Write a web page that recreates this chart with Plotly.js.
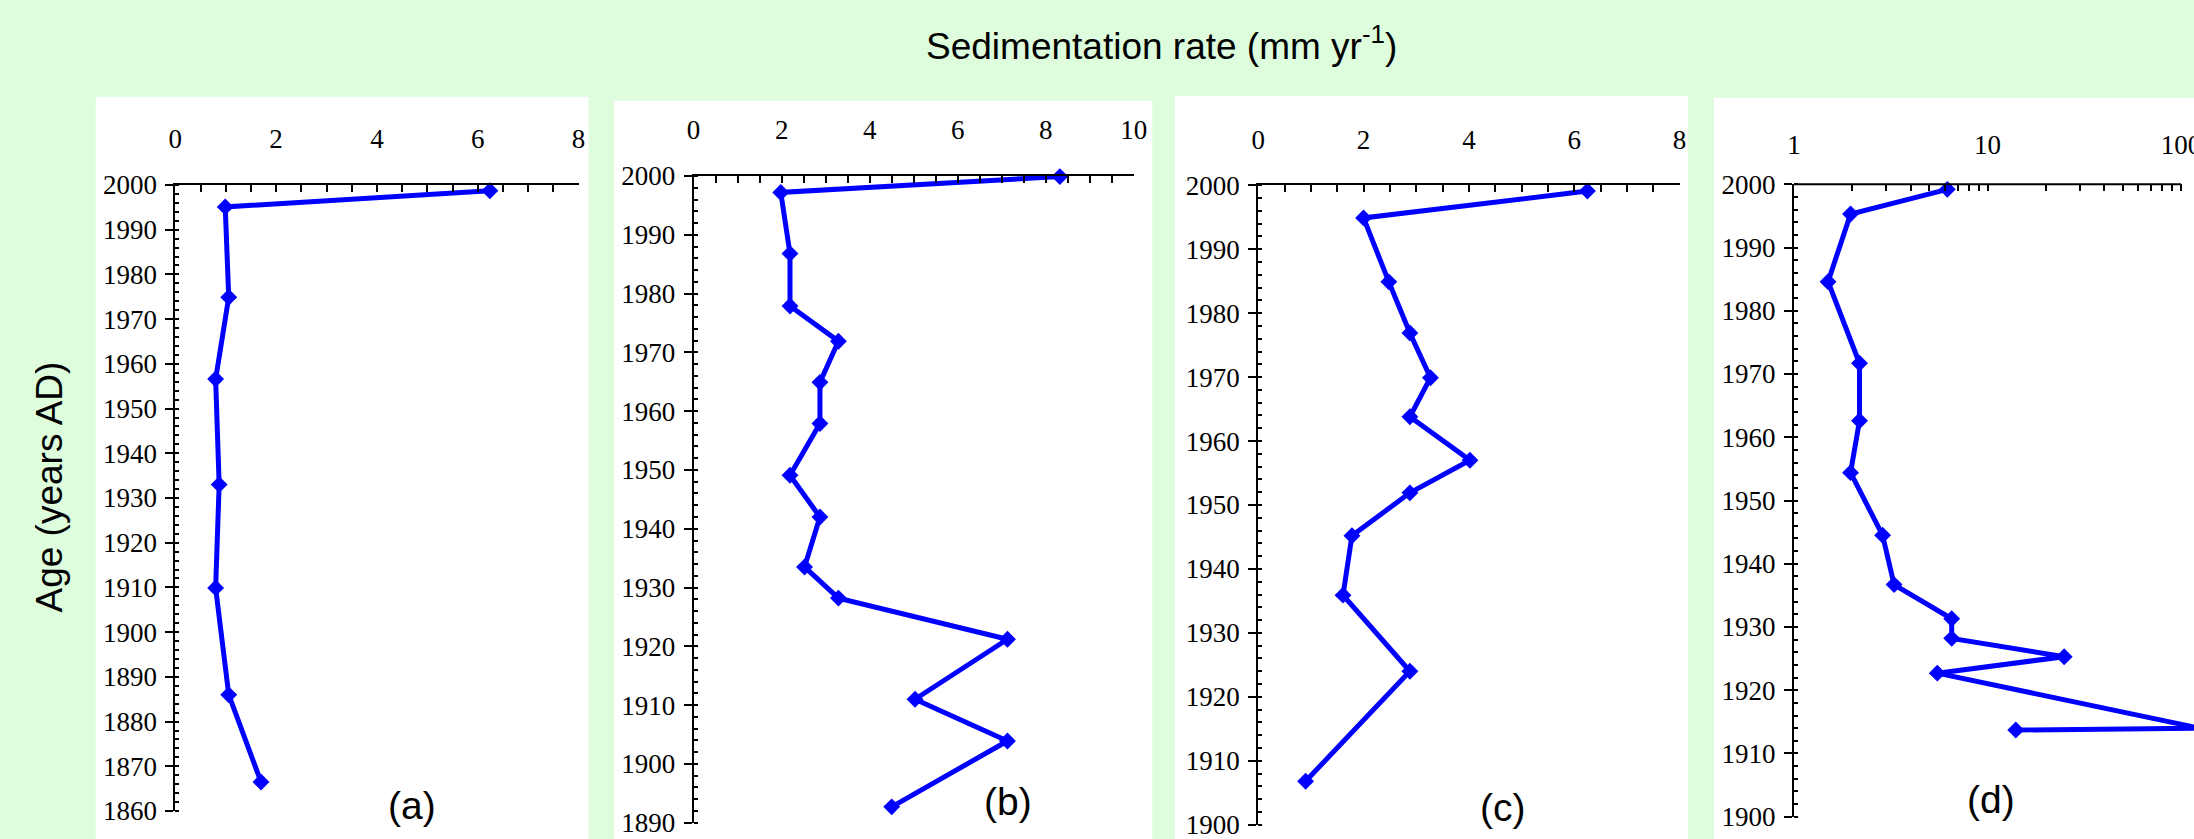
<!DOCTYPE html>
<html><head><meta charset="utf-8">
<script src="https://cdn.plot.ly/plotly-3.0.1.min.js"></script>
<style>html,body{margin:0;padding:0;overflow:hidden;background:#ddfddd}#chart{width:2194px;height:839px}</style>
</head><body><div id="chart"></div>
<script>
// ---- data ----
const ageA  = [1998.7, 1995.1, 1974.9, 1956.6, 1933.0, 1909.9, 1886.0, 1866.5];
const rateA = [6.24, 0.99, 1.06, 0.80, 0.87, 0.80, 1.06, 1.70];

const ageB  = [1999.9, 1997.2, 1986.8, 1977.9, 1971.9, 1964.9, 1957.9, 1949.1, 1942.0, 1933.5, 1928.2, 1921.2, 1911.0, 1903.9, 1892.7];
const rateB = [8.32, 1.98, 2.19, 2.19, 3.29, 2.87, 2.87, 2.19, 2.87, 2.52, 3.29, 7.13, 5.03, 7.13, 4.50];

const ageC  = [1999.1, 1994.9, 1984.9, 1976.9, 1969.9, 1963.8, 1957.0, 1951.9, 1945.2, 1935.9, 1924.0, 1906.8];
const rateC = [6.25, 2.00, 2.48, 2.88, 3.27, 2.88, 4.02, 2.88, 1.78, 1.61, 2.88, 0.90];

const ageD  = [1999.2, 1995.3, 1984.6, 1971.7, 1962.6, 1954.4, 1944.5, 1936.7, 1931.3, 1928.2, 1925.3, 1922.7, 1914.0, 1913.7];
const rateD = [6.2, 1.96, 1.50, 2.18, 2.18, 1.96, 2.87, 3.29, 6.53, 6.53, 24.9, 5.5, 125, 14.0];

const panelLabels = ['(a)', '(b)', '(c)', '(d)'];
const xTitle = 'Sedimentation rate (mm yr<sup>-1</sup>)';
const yTitle = 'Age (years AD)';

// ---- layout geometry (pixels) ----
const W = 2194, H = 839;
const fx = p => p / W;
const fy = p => 1 - p / H;

const panels = [
  {age: ageA, rate: rateA, xl: 175.3, xr: 578.6, yt: 185,   yb: 811,   ymin: 1860, xrange: [0, 8],  dtick: 2, mdtick: 0.5, type: 'linear',
   bg: [95.7, 588.6, 96.7], lab: [412.4, 805]},
  {age: ageB, rate: rateB, xl: 693.6, xr: 1133.8, yt: 176,  yb: 822.7, ymin: 1890, xrange: [0, 10], dtick: 2, mdtick: 0.5, type: 'linear',
   bg: [614, 1152.3, 100.7], lab: [1008, 801]},
  {age: ageC, rate: rateC, xl: 1258.2, xr: 1679.6, yt: 185.3, yb: 824.7, ymin: 1900, xrange: [0, 8], dtick: 2, mdtick: 0.5, type: 'linear',
   bg: [1175, 1687.9, 96], lab: [1502.8, 807]},
  {age: ageD, rate: rateD, xl: 1794, xr: 2194, yt: 184.3, yb: 816.7, ymin: 1900, xrange: [0, 400 / 193.5], dtick: 1, mdtick: 'D1', type: 'log',
   bg: [1714, 2200, 97.7], lab: [1990.8, 799]}
];

const tickFont = {family: 'Liberation Serif, Times New Roman, serif', size: 27, color: '#000'};
const sansFont = 'Liberation Sans, Arial, sans-serif';

const data = [];
const layout = {
  width: W, height: H,
  margin: {l: 0, r: 0, t: 0, b: 0},
  paper_bgcolor: '#ddfddd',
  plot_bgcolor: 'rgba(0,0,0,0)',
  showlegend: false,
  shapes: [], annotations: []
};

panels.forEach((p, i) => {
  const s = i === 0 ? '' : String(i + 1);
  const o = String(i + 5);
  data.push({
    x: p.rate, y: p.age, type: 'scatter', mode: 'lines+markers',
    xaxis: 'x' + s, yaxis: 'y' + s, cliponaxis: false, hoverinfo: 'skip',
    line: {color: '#0000ff', width: 5},
    marker: {symbol: 'diamond', size: 13, color: '#0000ff'}
  });
  layout['xaxis' + s] = {
    domain: [fx(p.xl), fx(p.xr)], anchor: 'y' + s, side: 'top', type: p.type,
    range: p.xrange, dtick: p.dtick, tick0: 0,
    showline: p.type !== 'log', linecolor: '#000', linewidth: 2,
    ticks: 'inside', ticklen: 7, tickwidth: 2, tickcolor: '#000',
    minor: {ticks: 'inside', ticklen: 7, tickwidth: 2, tickcolor: '#000', dtick: p.mdtick},
    showgrid: false, zeroline: false, tickfont: tickFont, ticklabelstandoff: 24,
    ticklabeloverflow: 'allow', fixedrange: true
  };
  layout['xaxis' + o] = {
    overlaying: 'x' + s, anchor: 'y' + s, side: 'top', type: p.type,
    range: p.xrange, dtick: p.dtick, tick0: 0,
    showline: false, ticks: 'outside', ticklen: 5, tickwidth: 2, tickcolor: '#000',
    showticklabels: false, showgrid: false, zeroline: false, fixedrange: true
  };
  layout['yaxis' + s] = {
    domain: [fy(p.yb), fy(p.yt)], anchor: 'x' + s, range: [p.ymin, 2000],
    dtick: 10, tick0: 2000,
    showline: true, linecolor: '#000', linewidth: 2,
    ticks: 'outside', ticklen: 8, tickwidth: 2, tickcolor: '#000',
    minor: {ticks: 'inside', ticklen: 4, tickwidth: 2, tickcolor: '#000', dtick: 2},
    showgrid: false, zeroline: false, tickfont: tickFont, ticklabelstandoff: 3,
    ticklabeloverflow: 'allow', fixedrange: true
  };
  // white panel background
  layout.shapes.push({type: 'rect', xref: 'paper', yref: 'paper', layer: 'below',
    x0: fx(p.bg[0]), x1: fx(p.bg[1]), y0: fy(p.bg[2]), y1: fy(H + 5),
    fillcolor: '#ffffff', line: {width: 0}});
  // panel label
  layout.annotations.push({xref: 'paper', yref: 'paper', x: fx(p.lab[0]), y: fy(p.lab[1]),
    xanchor: 'center', yanchor: 'middle', showarrow: false, text: panelLabels[i],
    font: {family: sansFont, size: 39, color: '#000'}});
});

// x-axis line of the log panel, ending at 100
const pd = panels[3];
layout.shapes.push({type: 'line', xref: 'x4 domain', yref: 'paper', layer: 'above',
  x0: 0, x1: 2 / pd.xrange[1], y0: fy(pd.yt), y1: fy(pd.yt), line: {color: '#000', width: 2}});

layout.annotations.push({xref: 'paper', yref: 'paper', x: fx(1161), y: fy(44),
  xanchor: 'center', yanchor: 'middle', showarrow: false, text: xTitle,
  font: {family: sansFont, size: 37, color: '#000'}});
layout.annotations.push({xref: 'paper', yref: 'paper', x: fx(49), y: fy(487.5),
  xanchor: 'center', yanchor: 'middle', showarrow: false, text: yTitle, textangle: -90,
  font: {family: sansFont, size: 37, color: '#000'}});

Plotly.newPlot('chart', data, layout, {displayModeBar: false, staticPlot: true});
</script></body></html>
